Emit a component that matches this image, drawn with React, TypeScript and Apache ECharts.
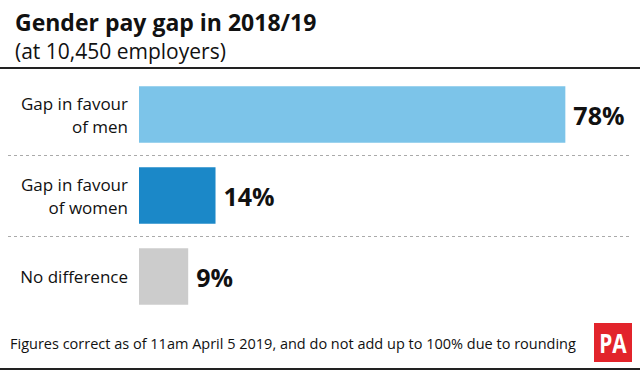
import React, { useEffect, useRef } from "react";
import * as echarts from "echarts";

const categories = ["Gap in favour\nof men", "Gap in favour\nof women", "No difference"];
const values = [78, 14, 9];
const barColors = ["#7cc4e9", "#1b88c8", "#cccccc"];
const titleText = "Gender pay gap in 2018/19";
const subtitleText = "(at 10,450 employers)";
const footnote = "Figures correct as of 11am April 5 2019, and do not add up to 100% due to rounding";

const FONT = "'Open Sans', 'Noto Sans', sans-serif";

export default function App() {
  const ref = useRef<HTMLDivElement>(null);
  useEffect(() => {
    if (!ref.current) return;
    const chart = echarts.init(ref.current, undefined, { renderer: "svg" });
    chart.setOption({
      animation: false,
      backgroundColor: "#ffffff",
      title: [
        {
          text: titleText,
          left: 15,
          top: 10,
          padding: 0,
          textStyle: { fontFamily: FONT, fontWeight: "bold", fontSize: 23, lineHeight: 24, color: "#111" },
        },
        {
          text: subtitleText,
          left: 15,
          top: 40,
          padding: 0,
          textStyle: { fontFamily: FONT, fontWeight: "normal", fontSize: 21, lineHeight: 22, color: "#111" },
        },
      ],
      grid: { left: 139, right: 20, top: 74, bottom: 53 },
      xAxis: {
        type: "value",
        min: 0,
        max: 88,
        show: false,
      },
      yAxis: {
        type: "category",
        inverse: true,
        data: categories,
        axisLine: { show: false },
        axisTick: { show: false },
        splitLine: { show: false },
        axisLabel: {
          margin: 11,
          fontFamily: FONT,
          fontSize: 17,
          lineHeight: 23,
          color: "#111",
          align: "right",
        },
      },
      series: [
        {
          type: "bar",
          data: values.map((v, i) => ({ value: v, itemStyle: { color: barColors[i] } })),
          barCategoryGap: "30%",
          label: {
            show: true,
            position: "right",
            distance: 8,
            formatter: "{c}%",
            fontFamily: FONT,
            fontWeight: "bold",
            fontSize: 25,
            color: "#111",
          },
        },
      ],
      graphic: [
        { type: "rect", shape: { x: 0, y: 67, width: 640, height: 2 }, style: { fill: "#222" } },
        { type: "line", shape: { x1: 8, y1: 155.5, x2: 632, y2: 155.5 }, style: { stroke: "#aaaaaa", lineWidth: 1, lineDash: [3, 3] }, silent: true },
        { type: "line", shape: { x1: 8, y1: 236.5, x2: 632, y2: 236.5 }, style: { stroke: "#aaaaaa", lineWidth: 1, lineDash: [3, 3] }, silent: true },
        {
          type: "text",
          left: 10,
          top: 336,
          style: { text: footnote, fontFamily: FONT, fontSize: 14.5, fill: "#111" },
        },
        { type: "rect", shape: { x: 594, y: 323, width: 38, height: 39 }, style: { fill: "#e2242b" } },
        {
          type: "text",
          x: 613,
          y: 343,
          scaleX: 0.8,
          style: {
            text: "PA",
            fontFamily: "'Open Sans', sans-serif",
            fontWeight: "bold",
            fontSize: 26,
            fill: "#ffffff",
            align: "center",
            verticalAlign: "middle",
          },
        },
        { type: "rect", shape: { x: 0, y: 368, width: 640, height: 2 }, style: { fill: "#222" } },
      ],
    });
    return () => chart.dispose();
  }, []);
  return <div ref={ref} style={{ width: 640, height: 370, position: "absolute", left: 0, top: 0 }} />;
}
